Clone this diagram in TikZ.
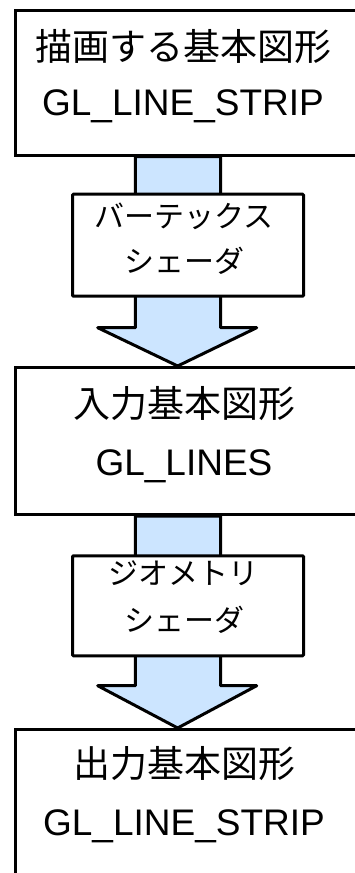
\documentclass[tikz,border=0pt]{standalone}
\usepackage{fontspec}
\newfontfamily\jpfont{Noto Sans CJK JP}
\newfontfamily\lafont{Liberation Sans}
\definecolor{arrowfill}{RGB}{204,229,255}
\pgfdeclarelayer{bg}
\pgfsetlayers{bg,main}
\tikzset{
  bigbox/.style={draw, line width=3pt, fill=white, inner sep=0pt, anchor=north west, minimum width=366pt},
  smallbox/.style={draw, line width=3pt, fill=white, inner sep=0pt, anchor=north west, minimum width=231pt, rounded corners=1pt},
  jptext/.style={font=\jpfont\fontsize{37}{44}\selectfont, anchor=base, inner sep=0pt},
  latext/.style={font=\lafont\fontsize{37}{44}\selectfont, anchor=base, inner sep=0pt},
  kanatext/.style={font=\jpfont\fontsize{30}{36}\selectfont, anchor=base, inner sep=0pt},
  flow/.style={draw, line width=3pt, fill=arrowfill, line join=round}
}
\begin{document}
\begin{tikzpicture}[x=1pt,y=-1pt]
\useasboundingbox (0,0) rectangle (355,873);
\clip (0,0) rectangle (355,873);
% boxes
\node[bigbox, minimum height=145pt] (b1) at (14,8.7) {};
\node[smallbox, minimum height=102pt] (s1) at (71,192.7) {};
\node[bigbox, minimum height=147pt] (b2) at (14,366) {};
\node[smallbox, minimum height=100pt] (s2) at (71,554.3) {};
\node[bigbox, minimum height=170pt] (b3) at (14,728) {};
% texts
\node[jptext] (t1a) at (183,60) {描画する基本図形};
\node[latext] (t1b) at (183,115) {GL\_LINE\_STRIP};
\node[kanatext] (t2a) at (184,227) {バーテックス};
\node[kanatext] (t2b) at (184,272) {シェーダ};
\node[jptext] (t3a) at (184,417) {入力基本図形};
\node[latext] (t3b) at (184,475) {GL\_LINES};
\node[kanatext] (t4a) at (183,584) {ジオメトリ};
\node[kanatext] (t4b) at (184,631) {シェーダ};
\node[jptext] (t5a) at (184,777) {出力基本図形};
\node[latext] (t5b) at (184,835) {GL\_LINE\_STRIP};
% arrows
\begin{pgfonlayer}{bg}
\draw[flow] (135.3,0 |- b1.south) -- (135.3,327.7) -- (97.7,327.7) -- (177.7,0 |- b2.north)
  -- (256.7,327.7) -- (220.5,327.7) -- (220.5,0 |- b1.south) -- cycle;
\draw[flow] (135.3,0 |- b2.south) -- (135.3,685.7) -- (97.7,685.7) -- (177.7,0 |- b3.north)
  -- (256.7,685.7) -- (220.5,685.7) -- (220.5,0 |- b2.south) -- cycle;
\end{pgfonlayer}
\end{tikzpicture}
\end{document}
